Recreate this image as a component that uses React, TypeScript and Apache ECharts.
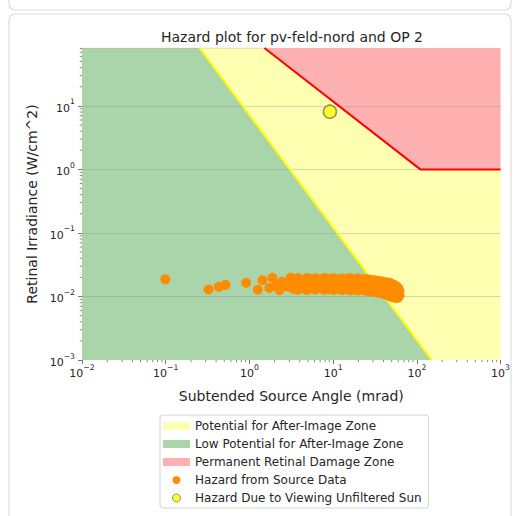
import React, { useEffect, useRef } from "react";
import * as echarts from "echarts";

const TITLE = "Hazard plot for pv-feld-nord and OP 2";
const X_NAME = "Subtended Source Angle (mrad)";
const Y_NAME = "Retinal Irradiance (W/cm^2)";

const X_MIN = 0.01;
const X_MAX = 1000;
const Y_MIN = 0.001;
const Y_MAX = 81.5;

const X_TICK_EXPS = [-2, -1, 0, 1, 2, 3];
const X_TICK_LABELS = ["−2", "−1", "0", "1", "2", "3"];
const Y_TICK_EXPS = [-3, -2, -1, 0, 1];
const Y_TICK_LABELS = ["−3", "−2", "−1", "0", "1"];

const ZONE_NAMES = [
  "Potential for After-Image Zone",
  "Low Potential for After-Image Zone",
  "Permanent Retinal Damage Zone",
];
const SOURCE_NAME = "Hazard from Source Data";
const SUN_NAME = "Hazard Due to Viewing Unfiltered Sun";

// boundary lines (angle mrad, irradiance W/cm^2)
const afterImageLine: number[][] = [
  [0.254, Y_MAX],
  [150, Y_MIN],
];
const damageLine: number[][] = [
  [1.51, Y_MAX],
  [110, 1],
  [X_MAX, 1],
];

// zone polygons
const lowZone: number[][] = [
  [X_MIN, Y_MIN],
  [X_MIN, Y_MAX],
  [0.254, Y_MAX],
  [150, Y_MIN],
];
const potentialZone: number[][] = [
  [0.254, Y_MAX],
  [1.51, Y_MAX],
  [110, 1],
  [X_MAX, 1],
  [X_MAX, Y_MIN],
  [150, Y_MIN],
];
const damageZone: number[][] = [
  [1.51, Y_MAX],
  [X_MAX, Y_MAX],
  [X_MAX, 1],
  [110, 1],
];

const sunPoint: number[][] = [[9.15, 8.1]];

const sourcePoints: number[][] = [
  [0.099, 0.0186], [0.325, 0.0129], [0.432, 0.0142], [0.518, 0.0152], [0.914, 0.0164],
  [1.26, 0.0128], [1.43, 0.018], [1.73, 0.0136], [1.88, 0.0197], [2.1, 0.0151],
  [2.28, 0.0126], [2.45, 0.017], [2.7, 0.0145], [2.99, 0.0142], [3.1, 0.0197],
  [3.3, 0.0188], [3.3, 0.0158], [3.35, 0.0132],
  [3.8, 0.0195], [3.8, 0.015], [3.75, 0.0128],
  [4.3, 0.0182], [4.3, 0.0162], [4.35, 0.0135],
  [4.9, 0.0196], [4.9, 0.0148], [4.85, 0.0127],
  [5.5, 0.0186], [5.5, 0.016], [5.55, 0.0133],
  [6.2, 0.0193], [6.2, 0.0152], [6.15, 0.0129],
  [7.0, 0.0185], [7.0, 0.0165], [7.05, 0.0136],
  [7.9, 0.0197], [7.9, 0.0155], [7.85, 0.0128],
  [8.9, 0.0189], [8.9, 0.0149], [8.95, 0.0131],
  [10.0, 0.0194], [10.0, 0.0163], [10.1, 0.0127],
  [11.2, 0.0186], [11.2, 0.0154], [11.1, 0.0133],
  [12.6, 0.0192], [12.6, 0.016], [12.7, 0.0126],
  [14.1, 0.0188], [14.1, 0.015], [14.0, 0.013],
  [15.8, 0.0195], [15.8, 0.0162], [15.9, 0.0125],
  [17.7, 0.0187], [17.7, 0.0153], [17.6, 0.0128],
  [19.8, 0.0191], [19.8, 0.0158], [19.9, 0.0124],
  [22.2, 0.0186], [22.2, 0.015], [22.1, 0.0127],
  [24.9, 0.0189], [24.9, 0.0161], [25.0, 0.0122],
  [27.9, 0.0184], [27.9, 0.0152], [27.8, 0.012],
  [31.2, 0.018], [31.2, 0.0157], [31.3, 0.0118],
  [34.9, 0.0176], [34.9, 0.0148], [34.8, 0.0114],
  [39.0, 0.0172], [39.0, 0.014], [39.1, 0.0111], [41.0, 0.0125],
  [43.5, 0.0168], [43.5, 0.0137], [43.4, 0.0106],
  [48.0, 0.0163], [48.0, 0.013], [47.9, 0.01],
  [52.5, 0.0155], [52.5, 0.0124], [52.4, 0.0097],
  [56.5, 0.0146], [56.5, 0.0118], [56.4, 0.0095],
  [60.0, 0.0135], [60.0, 0.0112], [59.8, 0.0096],
  [62.0, 0.0122], [62.0, 0.0104],
];

const COLORS = {
  potential: "#ffffb2",
  low: "#aad5aa",
  damage: "#ffb0b0",
  yellowLine: "#ffff00",
  redLine: "#ff0000",
  source: "#ff8c00",
  sun: "#ffff00",
  sunEdge: "#6f7a55",
  text: "#262626",
  tick: "#555555",
};

const FONT = "DejaVu Sans";

function labelFor(v: number, exps: number[], labels: string[]): string {
  const l = Math.log10(v);
  const e = Math.round(l);
  if (Math.abs(l - e) > 1e-6) return "";
  const i = exps.indexOf(e);
  return i >= 0 ? "{b|10}{s|" + labels[i] + "}" : "";
}

const tickRich = {
  b: { fontFamily: FONT, fontSize: 11, lineHeight: 16, color: COLORS.text, verticalAlign: "bottom" },
  s: { fontFamily: FONT, fontSize: 7.7, lineHeight: 9, color: COLORS.text, verticalAlign: "top" },
};

function minorValues(fromExp: number, toExp: number, max: number): number[] {
  const out: number[] = [];
  for (let e = fromExp; e <= toExp; e++) {
    for (let m = 2; m <= 9; m++) {
      const v = m * Math.pow(10, e);
      if (v <= max) out.push(v);
    }
  }
  return out;
}

export default function App() {
  const ref = useRef<HTMLDivElement>(null);

  useEffect(() => {
    if (!ref.current) return;
    const chart = echarts.init(ref.current, undefined, { renderer: "svg" });

    const zoneSeries = (name: string, verts: number[][], color: string) => ({
      type: "custom",
      name,
      data: verts,
      z: 1,
      silent: true,
      itemStyle: { color },
      encode: { x: 0, y: 1 },
      renderItem: (params: any, api: any) => {
        if (params.dataIndex !== 0) return null;
        const pts = verts.map((v) => api.coord(v));
        return { type: "polygon", shape: { points: pts }, style: { fill: color } };
      },
    });

    const xMinor = minorValues(-2, 2, X_MAX);
    const yMinor = minorValues(-3, 1, Y_MAX);

    const option: any = {
      animation: false,
      textStyle: { fontFamily: FONT },
      grid: { left: 82, top: 48, width: 420, height: 312, containLabel: false },
      graphic: [
        {
          type: "rect",
          shape: { x: 9, y: -30, width: 502, height: 40, r: 6 },
          style: { fill: "none", stroke: "#dddddd", lineWidth: 1.2 },
          silent: true,
        },
        {
          type: "rect",
          shape: { x: 9, y: 14, width: 502, height: 560, r: 6 },
          style: { fill: "none", stroke: "#dddddd", lineWidth: 1.2 },
          silent: true,
        },
        {
          type: "text",
          x: 292,
          y: 37,
          style: {
            text: TITLE,
            fontFamily: FONT,
            fontSize: 14,
            fill: COLORS.text,
            textAlign: "center",
            textVerticalAlign: "middle",
          },
        },
      ],
      xAxis: {
        type: "log",
        logBase: 10,
        min: X_MIN,
        max: X_MAX,
        name: X_NAME,
        nameLocation: "middle",
        nameGap: 29,
        nameTextStyle: { fontFamily: FONT, fontSize: 14, color: COLORS.text },
        axisLine: { show: false },
        axisTick: { show: true, length: 4, lineStyle: { color: COLORS.tick, width: 0.8 } },
        axisLabel: {
          margin: 3,
          fontFamily: FONT,
          fontSize: 11,
          color: COLORS.text,
          rich: tickRich,
          formatter: (v: number) => labelFor(v, X_TICK_EXPS, X_TICK_LABELS),
        },
        splitLine: { show: false },
        z: 3,
      },
      yAxis: {
        type: "log",
        logBase: 10,
        min: Y_MIN,
        max: Y_MAX,
        name: Y_NAME,
        nameLocation: "middle",
        nameGap: 43,
        nameTextStyle: { fontFamily: FONT, fontSize: 14, color: COLORS.text },
        axisLine: { show: false },
        axisTick: { show: true, length: 4, lineStyle: { color: COLORS.tick, width: 0.8 } },
        axisLabel: {
          margin: 7,
          fontFamily: FONT,
          fontSize: 11,
          color: COLORS.text,
          rich: tickRich,
          showMaxLabel: false,
          formatter: (v: number) => labelFor(v, Y_TICK_EXPS, Y_TICK_LABELS),
        },
        splitLine: {
          show: true,
          showMaxLine: false,
          showMinLine: false,
          lineStyle: { color: "rgba(140,140,140,0.35)", width: 1 },
        },
        z: 3,
      },
      legend: {
        orient: "vertical",
        left: 160,
        top: 415,
        itemWidth: 27,
        itemHeight: 8,
        itemGap: 4,
        itemTextGap: 8,
        padding: [4, 7, 3, 3],
        borderColor: "#d4d4d4",
        borderWidth: 1,
        borderRadius: 3,
        backgroundColor: "#ffffff",
        selectedMode: false,
        textStyle: { fontFamily: FONT, fontSize: 12, color: COLORS.text, lineHeight: 14 },
        data: [
          { name: ZONE_NAMES[0], icon: "rect", itemStyle: { color: COLORS.potential } },
          { name: ZONE_NAMES[1], icon: "rect", itemStyle: { color: COLORS.low } },
          { name: ZONE_NAMES[2], icon: "rect", itemStyle: { color: COLORS.damage } },
          { name: SOURCE_NAME, icon: "circle", itemStyle: { color: COLORS.source } },
          {
            name: SUN_NAME,
            icon: "circle",
            itemStyle: { color: COLORS.sun, borderColor: COLORS.sunEdge, borderWidth: 1 },
          },
        ],
      },
      series: [
        zoneSeries(ZONE_NAMES[0], potentialZone, COLORS.potential),
        zoneSeries(ZONE_NAMES[1], lowZone, COLORS.low),
        zoneSeries(ZONE_NAMES[2], damageZone, COLORS.damage),
        {
          type: "line",
          name: "top-edge",
          data: [[X_MIN, Y_MAX], [1.51, Y_MAX]],
          symbol: "none",
          z: 4,
          silent: true,
          lineStyle: { color: "rgba(235,150,120,0.55)", width: 1 },
        },
        {
          type: "line",
          name: "after-image boundary",
          data: afterImageLine,
          symbol: "none",
          z: 4,
          silent: true,
          lineStyle: { color: COLORS.yellowLine, width: 2 },
        },
        {
          type: "line",
          name: "damage boundary",
          data: damageLine,
          symbol: "none",
          z: 4,
          silent: true,
          lineStyle: { color: COLORS.redLine, width: 2 },
        },
        {
          type: "custom",
          name: "minor-ticks",
          data: [[X_MIN, Y_MIN]],
          z: 3,
          silent: true,
          clip: false,
          renderItem: (params: any, api: any) => {
            if (params.dataIndex !== 0) return null;
            const children: any[] = [];
            xMinor.forEach((v) => {
              const p = api.coord([v, Y_MIN]);
              children.push({
                type: "line",
                shape: { x1: p[0], y1: p[1], x2: p[0], y2: p[1] + 2.2 },
                style: { stroke: COLORS.tick, lineWidth: 0.7 },
              });
            });
            yMinor.forEach((v) => {
              const p = api.coord([X_MIN, v]);
              children.push({
                type: "line",
                shape: { x1: p[0] - 2.2, y1: p[1], x2: p[0], y2: p[1] },
                style: { stroke: COLORS.tick, lineWidth: 0.7 },
              });
            });
            return { type: "group", children };
          },
        },
        {
          type: "scatter",
          name: SOURCE_NAME,
          data: sourcePoints,
          symbol: "circle",
          symbolSize: 10,
          z: 5,
          silent: true,
          itemStyle: { color: COLORS.source, opacity: 1 },
        },
        {
          type: "scatter",
          name: SUN_NAME,
          data: sunPoint,
          symbol: "circle",
          symbolSize: 13,
          z: 6,
          silent: true,
          itemStyle: { color: COLORS.sun, borderColor: COLORS.sunEdge, borderWidth: 1.5 },
        },
      ],
    };

    chart.setOption(option);
    return () => chart.dispose();
  }, []);

  return (
    <div
      ref={ref}
      style={{ position: "fixed", left: 0, top: 0, width: 513, height: 516, background: "#ffffff" }}
    />
  );
}
